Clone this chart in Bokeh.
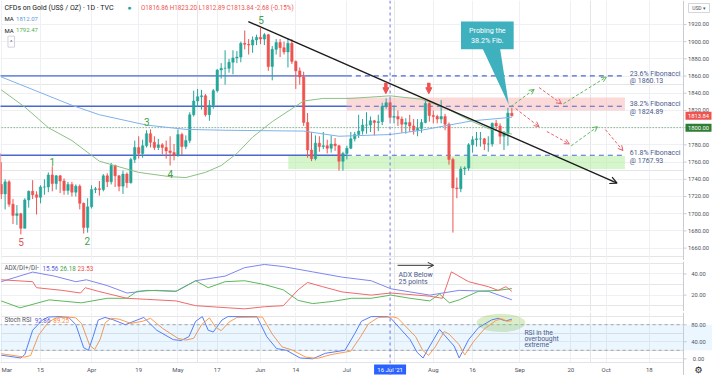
import numpy as np
import pandas as pd
from bokeh.plotting import figure
from bokeh.layouts import column
from bokeh.core.properties import value
from bokeh.models import (ColumnDataSource, FixedTicker, Span, Label, Arrow, OpenHead,
                          NormalHead, Range1d, BoxAnnotation, Grid)
from bokeh.embed import file_html
from bokeh.resources import INLINE

FONT = "Roboto"
UP, DN = "#26a69a", "#ef5350"

# ---------------- data ----------------
bar_dates = pd.bdate_range("2021-02-26", "2021-08-30")
opens = [1770,
 1734,1723,1737,1711,1698,1700,1683,1716,1726,1722,1719,1731,1731,1745,1735,1744,1738,1727,1734,1725,1732,1712,1684,
 1708,1728,1729,1728,1744,1737,1756,1744,1732,1746,1736,1763,1777,1770,1779,1793,1783,1777,1780,1777,1773,1771,
 1768,1792,1778,1785,1815,1831,1836,1837,1815,1826,1843,1867,1869,1869,1876,1881,1882,1898,1897,1896,1902,
 1905,1903,1908,1871,1891,1899,1893,1888,1898,1877,1866,1859,1806,1774,1764,1782,1778,1779,1776,1781,1779,1761,
 1770,1776,1787,1792,1796,1803,1803,1808,1806,1807,1825,1829,1812,1813,1810,1804,1806,1802,1797,1799,1806,1828,
 1814,1813,1810,1813,1804,1763,1730,1729,1752,1753,1780,1786,1787,1787,1781,1781,1805,1802,1790,1793,1816.86]
highs = [1771,
 1760,1740,1739,1717,1710,1701,1718,1727,1739,1726,1733,1740,1748,1755,1745,1745,1741,1737,1737,1734,1734,1713,1718,
 1733,1731,1738,1746,1747,1759,1757,1745,1750,1748,1765,1785,1790,1786,1797,1798,1790,1787,1782,1785,1790,1781,
 1798,1794,1791,1818,1843,1845,1844,1839,1832,1845,1868,1875,1890,1880,1890,1889,1900,1913,1903,1906,1908,
 1916,1910,1909,1895,1903,1903,1900,1904,1903,1878,1870,1865,1817,1795,1791,1790,1795,1786,1791,1788,1780,1772,
 1779,1795,1795,1815,1810,1818,1813,1809,1815,1829,1834,1833,1826,1820,1813,1811,1815,1810,1810,1810,1832,1831,
 1820,1815,1832,1816,1806,1765,1742,1755,1755,1782,1790,1795,1795,1788,1790,1806,1809,1805,1796,1823,1823.20]
lows = [1717,
 1717,1705,1708,1688,1687,1676,1683,1707,1717,1699,1712,1722,1725,1726,1728,1724,1722,1722,1720,1720,1705,1677,1678,
 1706,1724,1721,1726,1731,1734,1731,1726,1723,1730,1735,1759,1764,1765,1777,1777,1774,1774,1769,1764,1756,1762,
 1766,1768,1775,1782,1813,1824,1821,1813,1808,1822,1841,1857,1850,1864,1862,1875,1876,1891,1885,1887,1896,
 1897,1896,1866,1855,1885,1882,1885,1870,1874,1845,1850,1802,1765,1761,1762,1772,1775,1770,1771,1773,1750,1750,
 1763,1775,1784,1788,1792,1793,1795,1791,1796,1803,1822,1808,1805,1802,1794,1793,1795,1792,1790,1794,1805,1807,
 1805,1805,1805,1797,1757,1678,1718,1725,1745,1750,1771,1778,1778,1774,1772,1778,1796,1781,1774,1779,1812.89]
closes = [1734,
 1723,1737,1711,1698,1700,1683,1716,1726,1722,1719,1731,1731,1745,1735,1744,1738,1727,1734,1725,1732,1712,1684,1708,
 1728,1729,1728,1744,1737,1756,1744,1732,1746,1736,1763,1777,1770,1779,1793,1783,1777,1780,1777,1773,1771,1768,
 1792,1778,1785,1815,1831,1836,1837,1815,1826,1843,1867,1869,1869,1876,1881,1882,1898,1897,1896,1902,1905,
 1903,1908,1871,1891,1899,1893,1888,1898,1877,1866,1859,1806,1774,1764,1782,1778,1779,1776,1781,1779,1761,1770,
 1776,1787,1792,1796,1803,1803,1808,1806,1807,1825,1829,1812,1813,1810,1804,1806,1802,1797,1799,1806,1828,1814,
 1813,1810,1813,1804,1763,1730,1729,1752,1753,1780,1786,1787,1787,1781,1781,1805,1802,1790,1793,1817,1813.84]

# moving averages (read at sample bars)
ma_blue_idx = [0, 18, 25, 37, 47, 57, 77, 86, 99, 107, 114, 120, 130]
ma_blue_val = [1859, 1826, 1815, 1803, 1798, 1797, 1796, 1790, 1792, 1797, 1803, 1808, 1812.07]
ma_green_idx = [0, 6, 12, 18, 25, 35, 43, 47, 52, 56, 60, 64, 69, 77, 82, 89, 99, 107, 113, 120, 124, 130]
ma_green_val = [1844, 1824, 1800, 1785, 1761, 1748, 1743, 1742, 1748, 1756, 1770, 1789, 1807, 1831, 1834, 1834,
                1837, 1833, 1823, 1807, 1799, 1792.47]

# ADX / DI+ / DI-
adx_idx = [0, 8, 13.5, 19, 21.7, 27, 32, 34.6, 37, 44.5, 49.5, 57, 62, 67, 71.8, 79.3, 86.8, 94.2, 99.2, 109.1,
           116.6, 124, 130]
adx_val = [32.7, 41.8, 38, 32.7, 34.5, 29, 22, 23, 24.5, 23.6, 33.6, 38, 46, 49, 47, 42, 37, 33.6, 26, 20, 24.5,
           23.6, 15.56]
dim_idx = [0, 8, 9, 15.5, 20.2, 21.4, 24.7, 32, 37, 44.5, 49.5, 57.7, 62, 67, 71.8, 75.6, 78, 81.8, 86.8, 94.2,
           99.2, 109.1, 112.3, 114.6, 119, 124, 126.5, 128.5, 130]
dim_val = [34.5, 32.7, 27, 24.5, 22, 27, 23.6, 17, 16, 14.5, 10, 8, 7, 9, 10, 25, 32, 28, 23, 20, 22, 19, 17, 42,
           32.7, 28, 24.5, 28, 23.53]
dip_idx = [0, 4.8, 12.2, 20.4, 27, 32, 34.6, 39.6, 44.5, 49.5, 52.7, 57, 62, 67, 71.8, 75.6, 79.3, 84.3, 89.2,
           94.2, 99.2, 104.1, 109.1, 111.6, 114.1, 116.6, 121.5, 126.5, 130]
dip_val = [14.5, 8, 15.5, 12.7, 17, 17, 23.6, 24.5, 23.6, 33.6, 27, 32.7, 33.6, 30, 25, 15, 12, 14, 17, 17, 20, 17,
           14.5, 21, 12.7, 15.5, 23.6, 24.5, 26.18]

# Stoch RSI
k_idx = [0, 5, 6, 8, 10.5, 12, 14.7, 17.2, 19, 21, 22.2, 23.4, 24.7, 26.4, 28.4, 31.6, 34.6, 36.3, 39.6, 43.8,
         45.8, 47.8, 49.5, 51.2, 52.7, 54, 56.2, 57.7, 65.1, 67.6, 70.1, 72.6, 76.1, 79.3, 82.5, 87.5, 90, 91.7,
         94.2, 98.4, 99.2, 104.1, 105.9, 107.4, 109.1, 111.6, 112.8, 115.3, 116.6, 119, 121.5, 124.8, 126.5,
         127.7, 128.5, 130]
k_val = [8.6, 2, 10, 67, 91, 98, 99, 97, 80, 26, 20, 52, 91, 97, 92, 80, 91, 97, 67, 45, 43, 52, 88, 99, 67, 63,
         91, 99, 99, 52, 24, 20, 2, 0, 13, 20, 59, 88, 99, 99, 95, 45, 15, 2, 30, 69, 56, 30, 2, 45, 73, 91, 95,
         91, 89, 92.86]
d_idx = [0, 6, 7.5, 9.5, 12, 14, 17, 19, 20.5, 22.5, 23.8, 25.2, 26.5, 28, 30, 33, 36, 38, 41, 45, 47, 49, 51,
         53, 54.5, 56, 58, 60, 66.5, 69, 71.5, 74, 77.5, 80.5, 84, 89, 91.5, 93.5, 96, 100, 101, 105.5, 107.3,
         108.8, 110.5, 112.8, 114, 116.5, 118, 120.3, 123, 126, 127.5, 128.8, 130]
d_val = [12, 4, 8, 55, 86, 96, 98, 96, 82, 32, 22, 46, 85, 95, 93, 83, 88, 95, 72, 48, 44, 48, 80, 96, 75, 66,
         86, 97, 98, 58, 28, 21, 4, 1, 10, 18, 52, 82, 97, 98, 95, 52, 20, 8, 28, 64, 58, 34, 9, 41, 70, 90, 94,
         88, 89.25]

tick_dates = ["2021-03-01", "2021-03-15", "2021-04-01", "2021-04-19", "2021-05-03", "2021-05-17", "2021-06-01",
              "2021-06-14", "2021-07-01", "2021-08-02", "2021-08-16", "2021-09-01", "2021-09-20", "2021-10-01",
              "2021-10-18"]
tick_labels = ["Mar", "15", "Apr", "19", "May", "17", "Jun", "14", "Jul", "Aug", "16", "Sep", "20", "Oct", "18"]
price_ticks = list(range(1660, 1940, 20))
adx_ticks = [20, 40]
stoch_ticks = [0, 40, 80]
fib_levels = [1860.13, 1824.89, 1767.93]
fib_names = ["23.6% Fibonacci", "38.2% Fibonacci", "61.8% Fibonacci"]
last_price = 1813.84
round_level = 1800.0

# ---------------- geometry helpers ----------------
base = np.datetime64("2021-03-01")
def bidx(d):
    return int(np.busday_count(base, np.datetime64(d, "D")))

x_bar = np.busday_count(base, bar_dates.values.astype("datetime64[D]"))
tick_idx = [bidx(d) for d in tick_dates]
jul16 = bidx("2021-07-16")

W = 712
H_MAIN, H_ADX, H_ST_DATA, H_STRIP = 260, 50, 50, 13
RB = 29
FW = W - RB
X0 = -0.18
X_AX = 173.7                       # right edge of data area (index units)
UPX = (X_AX - X0) / FW             # index units per screen px
X1 = X_AX + RB * UPX
xr = Range1d(X0, X1)

def px2i(px):      # reference px -> bar index
    if px <= 700:
        return (px - 0.74) / 4.026
    return X_AX + (px - 700) * (RB / 28.0) * UPX

def py2p(py):      # reference px -> price
    return 1800 + (133 - py) / 0.9

def ay(py):
    return 20 + (307 - py) / 1.1

def sy(py):
    return (374 - py) / 0.4625

ST_LO, ST_HI = -8.6, 108.6
ST_UPP = (ST_HI - ST_LO) / H_ST_DATA
ST_BOT = ST_LO - H_STRIP * ST_UPP

GRID = "#eef0f4"
AXC = "#c8cbd2"
TXT = "#50535e"

def mkfig(h, yr):
    f = figure(width=W, height=h, x_range=xr, y_range=yr, output_backend="svg", toolbar_location=None,
               x_axis_location=None, y_axis_location=None, min_border=0)
    f.outline_line_color = None
    f.background_fill_color = "white"
    f.border_fill_color = "white"
    return f

def grids(f, yt):
    f.add_layout(Grid(dimension=0, ticker=FixedTicker(ticks=tick_idx), grid_line_color=GRID))
    f.add_layout(Grid(dimension=1, ticker=FixedTicker(ticks=yt), grid_line_color=GRID))

def yaxis(f, ticks, upp, ylo, yhi):
    f.quad(left=X_AX, right=X1 + 1, bottom=ylo - 1000, top=yhi + 1000, fill_color="white", line_color=None)
    f.add_layout(Span(location=X_AX, dimension="height", line_color=AXC, line_width=1))
    f.segment(x0=[X_AX] * len(ticks), y0=ticks, x1=[X_AX + 3 * UPX] * len(ticks), y1=ticks,
              line_color=AXC, line_width=1)
    f.text(x=[X_AX + 15 * UPX] * len(ticks), y=ticks, text=["%.2f" % t for t in ticks],
           text_font=value(FONT), text_font_size=value("5.8px"), text_color=TXT,
           text_align="center", text_baseline="middle")

def lab(fig, x, y, text, size="7px", color="#131722", align="left", baseline="middle",
        xu="data", bg=None, border=None, pad=0):
    l = Label(x=x, y=y, x_units=xu, y_units="data", text=text, text_font=FONT, text_font_size=size,
              text_color=color, text_align=align, text_baseline=baseline)
    if bg is not None:
        l.background_fill_color = bg
    if border is not None:
        l.border_line_color = border
    if pad:
        l.padding = pad
    fig.add_layout(l)

def vline(f):
    f.add_layout(Span(location=jul16, dimension="height", line_color="#6a76e6", line_dash="3 3", line_width=1))

def sep():
    return figure(width=W, height=1, x_axis_location=None, y_axis_location=None, toolbar_location=None,
                  output_backend="svg", min_border=0, outline_line_color=None,
                  background_fill_color="#787b86", border_fill_color="#787b86")

# ---------------- main price panel ----------------
P_LO, P_HI = 1645.6, 1947.8
PUP = (P_HI - P_LO) / H_MAIN
p = mkfig(H_MAIN, Range1d(P_LO, P_HI))
grids(p, price_ticks)
vline(p)

i_solid_end = px2i(355)
i_zone_end = px2i(640)
p.add_layout(BoxAnnotation(left=i_solid_end, right=i_zone_end, bottom=1820, top=1835,
                           fill_color="#f7b9b9", fill_alpha=0.55, line_color=None, level="underlay"))
p.add_layout(BoxAnnotation(left=px2i(295), right=i_zone_end, bottom=1752, top=1767,
                           fill_color="#b9efa9", fill_alpha=0.6, line_color=None, level="underlay"))

for lv in fib_levels:
    p.line([X0 - 2, i_solid_end], [lv, lv], line_color="#4a68d0", line_width=1.3)
    p.line([i_solid_end, i_zone_end], [lv, lv], line_color="#4a68d0", line_width=1.2, line_dash="5 4")
p.line([X0 - 2, X_AX], [round_level, round_level], line_color="#4c9a5a", line_width=1, line_dash="1 2")

o = np.array(opens, float); c = np.array(closes, float)
src = ColumnDataSource(dict(x=x_bar, high=highs, low=lows, top=np.maximum(o, c), bottom=np.minimum(o, c),
                            color=[UP if cc >= oo else DN for oo, cc in zip(o, c)]))
p.segment(x0="x", y0="low", x1="x", y1="high", line_color="color", line_width=1, source=src)
p.vbar(x="x", width=0.62, top="top", bottom="bottom", fill_color="color", line_color="color",
       line_width=0.5, source=src)

p.line(ma_blue_idx, ma_blue_val, line_color="#7fb2ea", line_width=1)
p.line(ma_green_idx, ma_green_val, line_color="#8cc084", line_width=1)

p.add_layout(Arrow(end=OpenHead(size=7, line_color="#1b1b1b", line_width=1.2),
                   x_start=px2i(254), y_start=py2p(22), x_end=px2i(632), y_end=py2p(191),
                   line_color="#1b1b1b", line_width=1.3))

proj = [("g", 523, 111, 547, 93), ("r", 552, 91, 575, 108), ("g", 577, 108, 621, 80),
        ("r", 528, 113, 552, 132), ("r", 560, 137, 583, 150), ("g", 585, 152, 612, 132),
        ("r", 620, 135, 638, 157)]
for col, x0, y0, x1, y1 in proj:
    cc = "#5cb85c" if col == "g" else "#e8606a"
    p.add_layout(Arrow(end=OpenHead(size=5, line_color=cc, line_width=1),
                       x_start=px2i(x0), y_start=py2p(y0), x_end=px2i(x1), y_end=py2p(y1),
                       line_color=cc, line_width=1, line_dash="3 2"))

for ax in (395, 439):
    p.add_layout(Arrow(end=NormalHead(size=6, fill_color=DN, line_color=DN),
                       x_start=px2i(ax), y_start=py2p(86), x_end=px2i(ax), y_end=py2p(97.5),
                       line_color=DN, line_width=3.5))

p.quad(left=px2i(472), right=px2i(526), bottom=py2p(51), top=py2p(22), fill_color="#3fb0bd",
       line_color=None)
p.patch([px2i(494), px2i(512), px2i(521)], [py2p(50), py2p(50), py2p(109)], fill_color="#3fb0bd",
        line_color=None)
lab(p, px2i(499), py2p(31), "Probing the", size="7.2px", color="white", align="center")
lab(p, px2i(499), py2p(42), "38.2% Fib.", size="7.2px", color="white", align="center")

for lv, nm in zip(fib_levels, fib_names):
    yy = 133 - (lv - 1800) * 0.9
    lab(p, px2i(645), py2p(yy - 2.5), nm, size="7px", color="#4a5a8c")
    lab(p, px2i(645), py2p(yy + 5.5), "@ %.2f" % lv, size="7px", color="#4a5a8c")

waves = [("5", 267, 20, "#43a047"), ("1", 53, 169, "#43a047"), ("2", 89, 252, "#43a047"),
         ("3", 150, 127, "#43a047"), ("4", 174, 181, "#43a047"), ("5", 21, 253, "#e05555")]
for t, wx, wy, wc in waves:
    lab(p, px2i(wx), py2p(wy), t, size="10px", color=wc, align="center")

lab(p, px2i(4), py2p(8), "CFDs on Gold (US$ / OZ) · 1D · TVC", size="7px", color="#131722")
lab(p, px2i(132), py2p(8), "●", size="7px", color="#26a69a", align="center")
lab(p, px2i(144), py2p(8), "O1816.86 H1823.20 L1812.89 C1813.84 -2.68 (-0.15%)", size="6.3px",
    color="#ef5350")
lab(p, px2i(4), py2p(19), "MA", size="6px", color="#131722")
lab(p, px2i(16), py2p(19), "1812.07", size="6px", color="#5b9bd5")
lab(p, px2i(4), py2p(31), "MA", size="6px", color="#131722")
lab(p, px2i(16), py2p(31), "1792.47", size="6px", color="#4caf50")
lab(p, px2i(11), py2p(43), "^", size="6px", color=TXT, align="center", border="#d1d4dc", pad=2)

yaxis(p, price_ticks, PUP, P_LO, P_HI)
for pv, colr in ((last_price, "#ef5350"), (round_level, "#2e7d32")):
    p.quad(left=X_AX + 2 * UPX, right=X1 - 1 * UPX, bottom=pv - 4 * PUP, top=pv + 4 * PUP,
           fill_color=colr, line_color=None)
    p.text(x=[X_AX + 15 * UPX], y=[pv], text=["%.2f" % pv], text_font=value(FONT),
           text_font_size=value("5.8px"), text_color="white", text_align="center", text_baseline="middle")
p.quad(left=X_AX + 5 * UPX, right=X_AX + 26 * UPX, bottom=P_HI - 12 * PUP, top=P_HI - 3 * PUP,
       fill_color="white", line_color=AXC, line_width=0.8)
p.text(x=[X_AX + 15.5 * UPX], y=[P_HI - 7.5 * PUP], text=["USD ▾"], text_font=value(FONT),
       text_font_size=value("5px"), text_color=TXT, text_align="center", text_baseline="middle")

# ---------------- ADX panel ----------------
A_LO, A_HI = 4.5, 51.8
a = mkfig(H_ADX, Range1d(A_LO, A_HI))
grids(a, adx_ticks)
vline(a)
a.line(adx_idx, adx_val, line_color="#7f86ee", line_width=1)
a.line(dip_idx, dip_val, line_color="#5cb85c", line_width=1)
a.line(dim_idx, dim_val, line_color="#f06a6a", line_width=1)

lab(a, px2i(4), ay(279), "ADX/DI+/DI-", size="6.3px", color=TXT)
lab(a, px2i(43), ay(279), "15.56", size="6.3px", color="#5b63e0")
lab(a, px2i(61), ay(279), "26.18", size="6.3px", color="#43a047")
lab(a, px2i(79), ay(279), "23.53", size="6.3px", color="#ef5350")
a.add_layout(Arrow(end=OpenHead(size=6, line_color="#333", line_width=1),
                   x_start=px2i(407), y_start=ay(276), x_end=px2i(444), y_end=ay(276),
                   line_color="#333", line_width=1))
lab(a, px2i(408), ay(286), "ADX Below", size="7px", color="#4a5a8c")
lab(a, px2i(408), ay(293), "25 points", size="7px", color="#4a5a8c")
yaxis(a, adx_ticks, (A_HI - A_LO) / H_ADX, A_LO, A_HI)

# ---------------- Stoch RSI panel (with date strip) ----------------
s = mkfig(H_ST_DATA + H_STRIP, Range1d(ST_BOT, ST_HI))
grids(s, stoch_ticks)
vline(s)
s.add_layout(BoxAnnotation(bottom=20, top=80, fill_color="#2196f3", fill_alpha=0.09, line_color=None))
for lv in (20, 80):
    s.line([X0 - 2, X_AX], [lv, lv], line_color="#a3a6af", line_dash="3 3", line_width=1)
s.ellipse(x=px2i(513), y=sy(335), width=12.4, height=43, fill_color="#9ccc65", fill_alpha=0.35,
          line_color=None)
s.line(k_idx, k_val, line_color="#5b7cf5", line_width=1)
s.line(d_idx, d_val, line_color="#ff9a4d", line_width=1)

lab(s, px2i(4), sy(332), "Stoch RSI", size="6.3px", color=TXT)
lab(s, px2i(35), sy(332), "92.86", size="6.3px", color="#5b63e0")
lab(s, px2i(54), sy(332), "89.25", size="6.3px", color="#ff8a3d")
for t, yy in (("RSI in the", 346), ("overbought", 353), ("extreme", 359.5)):
    lab(s, px2i(537), sy(yy), t, size="6.8px", color="#4a5a8c")

yaxis(s, stoch_ticks, ST_UPP, ST_LO, ST_HI)
s.quad(left=X0 - 2, right=X1 + 1, bottom=ST_BOT - 5, top=ST_LO, fill_color="white", line_color=None)
s.line([X0 - 2, X_AX], [ST_LO, ST_LO], line_color="#e0e3eb", line_width=1)
strip_y = ST_LO - (H_STRIP / 2.0 + 0.5) * ST_UPP
# first label kept fully inside the canvas, others centred on their ticks
s.text(x=[X0 + 1 * UPX], y=[strip_y], text=[tick_labels[0]], text_font=value(FONT),
       text_font_size=value("6px"), text_color=TXT, text_align="left", text_baseline="middle")
s.text(x=tick_idx[1:], y=[strip_y] * (len(tick_idx) - 1), text=tick_labels[1:], text_font=value(FONT),
       text_font_size=value("6px"), text_color=TXT, text_align="center", text_baseline="middle")
s.quad(left=jul16 - 16 * UPX, right=jul16 + 16 * UPX, bottom=strip_y - 5 * ST_UPP, top=strip_y + 5 * ST_UPP,
       fill_color="#2962ff", line_color=None)
s.text(x=[jul16], y=[strip_y], text=["16 Jul '21"], text_font=value(FONT), text_font_size=value("6px"),
       text_color="white", text_align="center", text_baseline="middle")
s.text(x=[X_AX + 15 * UPX], y=[strip_y], text=["⚙"], text_font=value("DejaVu Sans"),
       text_font_size=value("9px"), text_color="#131722", text_align="center", text_baseline="middle")

layout = column(p, sep(), a, sep(), s, spacing=0)
open("out.html", "w").write(file_html(layout, INLINE))
